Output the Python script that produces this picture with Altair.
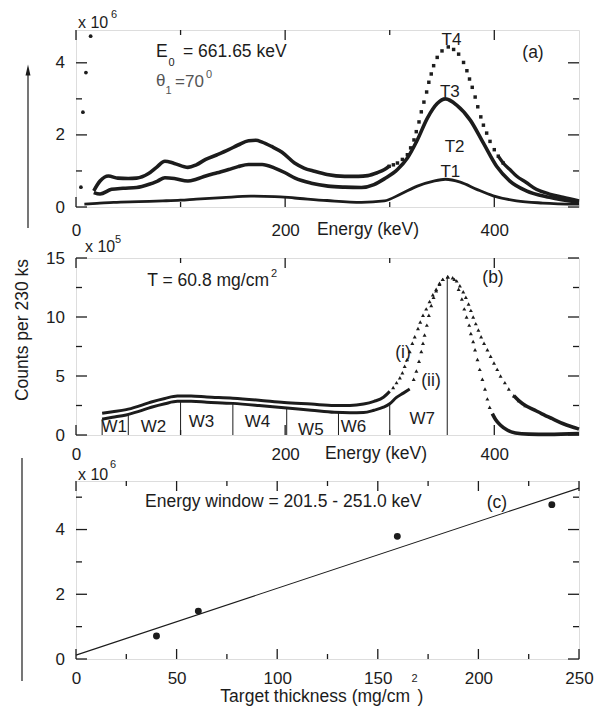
import altair as alt
import pandas as pd

FONT = "Liberation Sans"
INK = "#1c1c1c"
W = 503
HA, HB, HC = 177, 177, 178

# ---------------- panel (a): spectra for four thicknesses (counts in 1e6) ----------------
t4_energy = [17, 23, 31, 40, 50, 58, 69, 77, 85, 94, 107, 115, 124, 135, 146, 155, 165, 172, 178, 187,
             197, 209, 218, 228, 240, 257, 270, 279, 288, 295, 299.5, 303.5, 307.4, 312.1, 316.9, 320,
             323.2, 325.4, 328, 330.2, 332.7, 335.3, 337.4, 339.7, 342, 345.4, 350, 356, 361.1, 365.9,
             370.6, 373.8, 376.3, 378.9, 381.7, 384.2, 387.1, 389.6, 392.7, 395.9, 400, 403.8, 408.5,
             414.9, 421.2, 430.6, 440.1, 452.8, 465.4, 481]
t4_counts = [0.45, 0.72, 0.86, 0.80, 0.79, 0.80, 0.92, 1.10, 1.27, 1.21, 1.10, 1.17, 1.32, 1.45, 1.59,
             1.72, 1.84, 1.85, 1.80, 1.68, 1.52, 1.22, 1.08, 0.99, 0.90, 0.85, 0.85, 0.87, 0.95, 1.04,
             1.13, 1.17, 1.22, 1.32, 1.45, 1.64, 1.86, 2.09, 2.36, 2.64, 2.91, 3.19, 3.46, 3.69, 3.92,
             4.15, 4.33, 4.44, 4.37, 4.24, 4.01, 3.78, 3.55, 3.32, 3.05, 2.78, 2.50, 2.27, 2.05, 1.82,
             1.59, 1.41, 1.22, 1.04, 0.86, 0.68, 0.49, 0.36, 0.27, 0.17]

t3_energy = [17, 23, 34, 45, 58, 70, 78, 85, 94, 107, 115, 124, 135, 146, 155, 165, 178, 190, 200, 209.5,
             225, 241, 257, 273, 285, 294.8, 307.4, 316.9, 326.4, 335.9, 345.4, 353.3, 364.3, 377, 389.6,
             402.2, 414.9, 430.6, 452.8, 481]
t3_counts = [0.40, 0.36, 0.49, 0.52, 0.54, 0.63, 0.72, 0.81, 0.79, 0.72, 0.77, 0.86, 0.95, 1.04, 1.12,
             1.18, 1.18, 1.08, 0.95, 0.80, 0.66, 0.58, 0.55, 0.54, 0.62, 0.78, 1.04, 1.36, 1.86, 2.46,
             2.87, 3.00, 2.82, 2.41, 1.77, 1.13, 0.72, 0.45, 0.27, 0.13]

t1_energy = [8, 20, 36, 60, 83, 100, 115, 140, 167, 190, 209, 240, 273, 294.8, 310.6, 326.4, 342, 353.3,
             367.5, 383.2, 399, 421.2, 446.4, 481]
t1_counts = [0.08, 0.10, 0.13, 0.15, 0.17, 0.19, 0.22, 0.26, 0.30, 0.29, 0.25, 0.18, 0.13, 0.17, 0.36,
             0.58, 0.72, 0.77, 0.69, 0.49, 0.31, 0.17, 0.11, 0.08]

xray_energy = [4.7, 6.6, 9.5, 14.0]
xray_counts = [0.55, 2.63, 3.73, 4.74]

t_names = ["T4", "T3", "T2", "T1"]
t_name_energy = [359, 357.5, 362, 358]
t_name_counts = [4.62, 3.20, 1.67, 0.96]

# ---------------- panel (b): T = 60.8 mg/cm2 (counts in 1e5) ----------------
s1_energy = [25, 35, 48, 60, 72, 85, 97, 110, 125, 150, 175, 199, 225, 247, 262, 275, 285, 294, 300,
             303.3, 306.5, 309.7, 312.1, 314.3, 316.6, 319.1, 321.6, 323.9, 327, 329.2, 331.8, 334.9,
             338.1, 341.2, 344.4, 347.6, 350.7, 355.5, 360.2, 364, 367.1, 370.3, 372.8, 375.4, 377.6,
             379.8, 382.3, 384.8, 387.4, 390.2, 393.4, 396.5, 399.7, 402.8, 406, 410.1, 413.9, 418.7,
             423.4, 429.7, 437.6, 445.5, 455, 466, 477, 481]
s1_counts = [1.85, 1.97, 2.15, 2.45, 2.80, 3.10, 3.30, 3.30, 3.22, 3.12, 2.95, 2.75, 2.62, 2.50, 2.50,
             2.62, 2.85, 3.20, 3.70,
             4.03, 4.44, 4.86, 5.28, 5.83, 6.39, 7.08, 7.78, 8.33, 9.03, 9.58, 10.14, 10.69, 11.31,
             11.89, 12.36, 12.86, 13.19, 13.42, 13.33, 13.06, 12.64, 12.14, 11.67, 11.11, 10.56, 10.0,
             9.44, 8.89, 8.33, 7.78, 7.22, 6.67, 6.11, 5.56, 5.0, 4.44, 3.89, 3.33, 2.92, 2.50,
             2.15, 1.80, 1.40, 0.95, 0.62, 0.50]

s2_energy = [25, 35, 48, 60, 72, 85, 97, 110, 125, 150, 175, 199, 225, 247, 262, 275, 285, 294, 300,
             306.5, 313, 319.1,
             322.9, 325.5, 328, 330.2, 331.8, 333.3, 335.5, 337.4, 339.7, 341.9, 344.4, 347.6, 350.7,
             355.5, 361.8, 365.9, 369, 371.3, 373.5, 376, 377.6, 379.8, 381.6, 383.9, 386.1, 388.6,
             391.1, 393.4, 395.6,
             398.1, 401.2, 406, 412.3, 420.2, 432.9, 451.8, 481]
s2_counts = [1.35, 1.50, 1.70, 2.00, 2.35, 2.65, 2.85, 2.85, 2.78, 2.68, 2.50, 2.30, 2.10, 1.92, 1.88,
             1.90, 2.10, 2.36, 2.65, 3.19, 3.55, 3.89,
             4.72, 5.42, 6.25, 7.08, 7.78, 8.47, 9.31, 10.14, 10.97, 11.67, 12.22, 12.78, 13.19,
             13.42, 13.19, 12.36, 11.53, 10.69, 10.0, 9.31, 8.61, 7.92, 7.22, 6.39, 5.56, 4.72,
             3.89, 3.06, 2.36,
             1.81, 1.31, 0.83, 0.42, 0.17, 0.07, 0.05, 0.12]

win_edges = [25, 50, 100, 150, 201.5, 251, 300, 355]
win_tops = [1.35, 1.72, 2.85, 2.68, 2.30, 1.92, 2.60, 13.4]
win_names = ["W1", "W2", "W3", "W4", "W5", "W6", "W7"]
win_name_energy = [36.6, 74, 120, 173.5, 224.6, 265.4, 331]
win_name_counts = [0.67, 0.67, 1.08, 1.08, 0.42, 0.67, 1.37]

# ---------------- panel (c): counts in window vs thickness (1e6) ----------------
thickness = [40.0, 60.8, 159.7, 236.5]
window_counts = [0.71, 1.48, 3.79, 4.77]
fit_thickness = [0, 250]
fit_counts = [0.12, 5.28]

# tick values
e_major, e_minor = [0, 200, 400], [100, 300]
ya_major, ya_minor = [0, 2, 4], [1, 3]
yb_major, yb_minor = [0, 5, 10, 15], [2.5, 7.5, 12.5]
xc_major, xc_minor = [0, 50, 100, 150, 200, 250], [25, 75, 125, 175, 225]
yc_major, yc_minor = [0, 2, 4], [1, 3, 5]


def xenc(field, domain, values, pad):
    return alt.X(f"{field}:Q", title=None,
                 scale=alt.Scale(domain=domain, nice=False, zero=False),
                 axis=alt.Axis(values=values, format="d", domain=False, ticks=False, tickSize=0,
                               grid=False, labelPadding=pad, labelFontSize=17, labelFont=FONT,
                               labelColor=INK, labelFlush=False, labelOverlap=False))


def yenc(field, domain, values):
    return alt.Y(f"{field}:Q", title=None,
                 scale=alt.Scale(domain=domain, nice=False, zero=False),
                 axis=alt.Axis(values=values, format="d", domain=False, ticks=False, tickSize=0,
                               grid=False, labelPadding=11.5, labelFontSize=17, labelFont=FONT,
                               labelColor=INK, labelFlush=False, labelOverlap=False))


ONE = alt.Data(values=[{}])


def txt(s, x, y, size=17, align="left", color=INK, angle=None):
    kw = dict(text=s, font=FONT, fontSize=size, align=align, baseline="middle", color=color)
    if angle is not None:
        kw["angle"] = angle
    return alt.Chart(ONE).mark_text(**kw).encode(x=alt.value(x), y=alt.value(y))


def tick_layers(X, Y, xf, yf, xmaj, xmin, ymaj, ymin, H):
    out = []
    for vals, L in ((xmaj, 10), (xmin, 5)):
        base = alt.Chart(pd.DataFrame({xf: vals})).mark_rule(color=INK, strokeWidth=1.3)
        out.append(base.encode(x=X, y=alt.value(H), y2=alt.value(H - L)))
        out.append(base.encode(x=X, y=alt.value(0), y2=alt.value(L)))
    for vals, L in ((ymaj, 11), (ymin, 6)):
        base = alt.Chart(pd.DataFrame({yf: vals})).mark_rule(color=INK, strokeWidth=1.3)
        out.append(base.encode(y=Y, x=alt.value(0), x2=alt.value(L)))
        out.append(base.encode(y=Y, x=alt.value(W), x2=alt.value(W - L)))
    return out


# ================= panel (a) =================
XA = xenc("E", [0, 481], e_major, 15)
YA = yenc("C", [0, 4.91], ya_major)
t4 = pd.DataFrame({"E": t4_energy, "C": t4_counts})
t3 = pd.DataFrame({"E": t3_energy, "C": t3_counts})
t1 = pd.DataFrame({"E": t1_energy, "C": t1_counts})
xr = pd.DataFrame({"E": xray_energy, "C": xray_counts})
tl = pd.DataFrame({"E": t_name_energy, "C": t_name_counts, "lab": t_names})

a_layers = [
    alt.Chart(t1).mark_line(color=INK, strokeWidth=2.8, interpolate="monotone").encode(x=XA, y=YA),
    alt.Chart(t3).mark_line(color=INK, strokeWidth=3.6, interpolate="monotone").encode(x=XA, y=YA),
    alt.Chart(t4).transform_filter("datum.E <= 300").mark_line(
        color=INK, strokeWidth=3.6, interpolate="monotone").encode(x=XA, y=YA),
    alt.Chart(t4).transform_filter("datum.E >= 403").mark_line(
        color=INK, strokeWidth=3.4, interpolate="monotone").encode(x=XA, y=YA),
    alt.Chart(t4).transform_filter("datum.E >= 299 && datum.E <= 409").mark_point(
        shape="square", filled=True, size=12, color=INK, opacity=1).encode(x=XA, y=YA),
    alt.Chart(xr).mark_circle(size=14, color=INK, opacity=1).encode(x=XA, y=YA),
    alt.Chart(tl).mark_text(font=FONT, fontSize=17, color=INK, align="center",
                            baseline="middle").encode(x=XA, y=YA, text="lab:N"),
    txt("x 10", 2, -7, size=16),
    txt("6", 35, -15.5, size=11),
    txt("E", 80, 22, size=17.5),
    txt("0", 92.5, 33, size=11),
    txt("= 661.65 keV", 107, 22, size=17.5),
    txt("\u03b8", 80, 50.5, size=17, color="#555555"),
    txt("1", 89.5, 61, size=11, color="#555555"),
    txt("=70", 99, 52, size=17, color="#555555"),
    txt("0", 130, 45, size=11, color="#555555"),
    txt("(a)", 457, 23, size=17.5, align="center"),
    txt("Energy (keV)", 292, 200, size=17.5, align="center"),
    alt.Chart(ONE).mark_rule(color=INK, strokeWidth=1.2).encode(
        x=alt.value(-48), y=alt.value(44), y2=alt.value(198)),
    alt.Chart(ONE).mark_point(shape="M0,-1L0.45,1L-0.45,1Z", filled=True, size=121, color=INK,
                              opacity=1).encode(x=alt.value(-48), y=alt.value(40)),
] + tick_layers(XA, YA, "E", "C", e_major, e_minor, ya_major, ya_minor, HA)
panel_a = alt.layer(*a_layers).properties(width=W, height=HA)

# ================= panel (b) =================
XB = xenc("E", [0, 481], e_major, 11)
YB = yenc("C", [0, 15], yb_major)
s1 = pd.DataFrame({"E": s1_energy, "C": s1_counts})
s2 = pd.DataFrame({"E": s2_energy, "C": s2_counts})
wins = pd.DataFrame({"E": win_edges, "C": win_tops})
wl = pd.DataFrame({"E": win_name_energy, "C": win_name_counts, "lab": win_names})

b_layers = [
    alt.Chart(wins).transform_calculate(base="0").mark_rule(color=INK, strokeWidth=1).encode(
        x=XB, y=YB, y2="base:Q"),
    alt.Chart(s1).transform_filter("datum.E <= 300").mark_line(
        color=INK, strokeWidth=3, interpolate="monotone").encode(x=XB, y=YB),
    alt.Chart(s2).transform_filter("datum.E <= 320").mark_line(
        color=INK, strokeWidth=3, interpolate="monotone").encode(x=XB, y=YB),
    alt.Chart(s1).transform_filter("datum.E >= 418").mark_line(
        color=INK, strokeWidth=3.6, interpolate="monotone").encode(x=XB, y=YB),
    alt.Chart(s2).transform_filter("datum.E >= 398").mark_line(
        color=INK, strokeWidth=3.6, interpolate="monotone").encode(x=XB, y=YB),
    alt.Chart(s1).transform_filter("datum.E >= 303 && datum.E <= 430").mark_point(
        shape="triangle-up", filled=True, size=16, color=INK, opacity=1).encode(x=XB, y=YB),
    alt.Chart(s2).transform_filter("datum.E >= 322 && datum.E <= 396").mark_point(
        shape="triangle-up", filled=True, size=16, color=INK, opacity=1).encode(x=XB, y=YB),
    alt.Chart(wl).mark_text(font=FONT, fontSize=17, color=INK, align="center",
                            baseline="middle").encode(x=XB, y=YB, text="lab:N"),
    txt("x 10", 9, -11, size=16),
    txt("5", 39, -18.5, size=11),
    txt("T = 60.8 mg/cm", 193, 23, size=17.5, align="right"),
    txt("2", 195, 16, size=11),
    txt("(b)", 417, 20, size=17.5, align="center"),
    txt("(i)", 327, 95, size=17.5, align="center"),
    txt("(ii)", 355, 123, size=17.5, align="center"),
    txt("Energy (keV)", 300, 196, size=17.5, align="center"),
    txt("Counts per 230 ks", -53, 72, size=17.5, align="center", angle=270),
] + tick_layers(XB, YB, "E", "C", e_major, e_minor, yb_major, yb_minor, HB)
panel_b = alt.layer(*b_layers).properties(width=W, height=HB)

# ================= panel (c) =================
XC = xenc("T", [0, 250], xc_major, 11)
YC = yenc("C", [0, 5.5], yc_major)
pts = pd.DataFrame({"T": thickness, "C": window_counts})
fit = pd.DataFrame({"T": fit_thickness, "C": fit_counts})

c_layers = [
    alt.Chart(fit).mark_line(color=INK, strokeWidth=1.1).encode(x=XC, y=YC),
    alt.Chart(pts).mark_circle(size=48, color=INK, opacity=1).encode(x=XC, y=YC),
    txt("x 10", 2, -6, size=16),
    txt("6", 34, -16, size=11),
    txt("Energy window =  201.5 - 251.0 keV", 69, 21, size=17.5),
    txt("(c)", 421, 22, size=17.5, align="center"),
    txt("Target thickness (mg/cm", 334, 216, size=17.5, align="right"),
    txt("2", 335.5, 198, size=11),
    txt(")", 341.5, 216, size=17.5),
    alt.Chart(ONE).mark_rule(color=INK, strokeWidth=1.2).encode(
        x=alt.value(-54), y=alt.value(-23), y2=alt.value(200)),
] + tick_layers(XC, YC, "T", "C", xc_major, xc_minor, yc_major, yc_minor, HC)
panel_c = alt.layer(*c_layers).properties(width=W, height=HC)

chart = alt.vconcat(
    panel_a,
    alt.vconcat(panel_b, panel_c, spacing=46, bounds="flush"),
    spacing=51, bounds="flush",
).properties(
    padding={"left": 5, "top": 0, "right": 0, "bottom": 0}
).configure_view(stroke=INK, strokeWidth=1.5).configure(font=FONT)

chart.save("out.html", embed_options={"renderer": "svg", "actions": False})
